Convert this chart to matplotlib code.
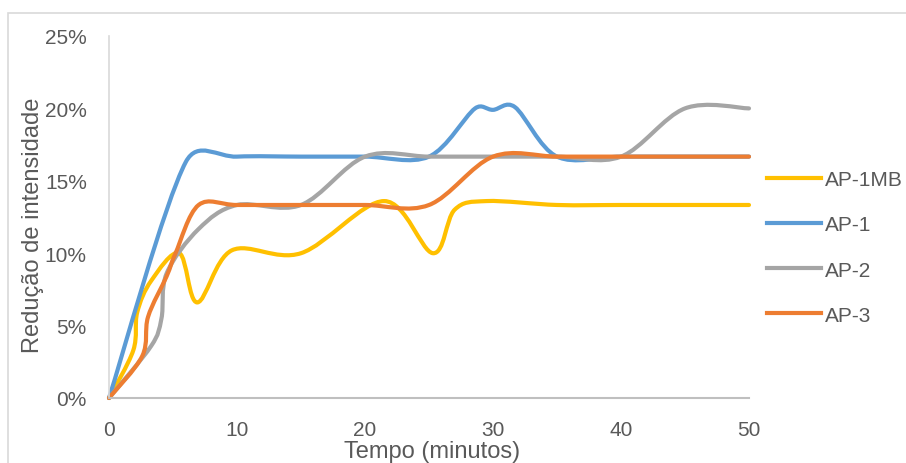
import numpy as np
import matplotlib.pyplot as plt
from matplotlib.path import Path
from matplotlib.patches import PathPatch, Rectangle
from matplotlib.lines import Line2D
from matplotlib.ticker import FuncFormatter

plt.rcParams['font.family'] = ['Liberation Sans', 'DejaVu Sans']

# tempo (minutos) e reducao de intensidade (%) de cada amostra
t_ap1mb = [0, 1.9, 2.2, 3.3, 5.5, 6.9, 9.6, 15, 21.5, 25.3, 27, 29.5, 35, 40, 45, 50]
r_ap1mb = [0, 3.3, 5.9, 8.1, 10.0, 6.6, 10.2, 10.0, 13.6, 10.0, 13.0, 13.6, 13.33, 13.33, 13.33, 13.33]

t_ap1 = [0, 6, 10, 15, 20, 25, 28.6, 30, 31.7, 35, 40, 45, 50]
r_ap1 = [0, 16.3, 16.67, 16.67, 16.67, 16.67, 20.0, 19.9, 20.1, 16.67, 16.67, 16.67, 16.67]

t_ap2 = [0, 3.3, 4.1, 4.5, 7, 10, 15, 20, 25, 30, 35, 40, 45, 50]
r_ap2 = [0, 3.6, 5.5, 8.6, 11.67, 13.33, 13.33, 16.67, 16.67, 16.67, 16.67, 16.67, 20, 20]

t_ap3 = [0, 2.6, 3.05, 4.5, 5.2, 7, 10, 15, 20, 25, 30, 35, 40, 45, 50]
r_ap3 = [0, 2.9, 5.6, 8.4, 10.0, 13.33, 13.33, 13.33, 13.33, 13.33, 16.67, 16.67, 16.67, 16.67, 16.67]

nomes = ['AP-1MB', 'AP-1', 'AP-2', 'AP-3']
cores = ['#FFC000', '#5B9BD5', '#A5A5A5', '#ED7D31']
series = [(t_ap1mb, r_ap1mb), (t_ap1, r_ap1), (t_ap2, r_ap2), (t_ap3, r_ap3)]

cinza = '#595959'


def linha_suave(ax, xs, ys):
    # curva bezier pelos pontos, como a linha suavizada do Excel
    pts = np.column_stack([xs, ys]).astype(float)
    tela = ax.transData.transform(pts)
    n = len(pts)
    verts = [pts[0]]
    codes = [Path.MOVETO]
    for i in range(n - 1):
        i0, i3 = max(i - 1, 0), min(i + 2, n - 1)
        p0, p1, p2, p3 = pts[i0], pts[i], pts[i + 1], pts[i3]
        d12 = np.hypot(*(tela[i + 1] - tela[i]))
        d02 = np.hypot(*(tela[i + 1] - tela[i0]))
        d13 = np.hypot(*(tela[i3] - tela[i]))
        f = 1 / 6 if d02 / 6 < d12 / 2 else d12 / (2 * d02)
        g = 1 / 6 if d13 / 6 < d12 / 2 else d12 / (2 * d13)
        verts += [p1 + f * (p2 - p0), p2 - g * (p3 - p1), p2]
        codes += [Path.CURVE4] * 3
    return Path(verts, codes)


fig = plt.figure(figsize=(9.06, 4.64), dpi=100)
fig.patches.append(Rectangle((8 / 906, -0.1), 1.2, 1.1 - 14 / 464,
                             transform=fig.transFigure, fill=False,
                             edgecolor='#D9D9D9', lw=1.2, clip_on=False))

ax = fig.add_axes([109 / 906, 1 - 399 / 464, 640 / 906, 362 / 464])
ax.set_xlim(0, 50)
ax.set_ylim(0, 25)

for (t, r), cor in zip(series, cores):
    ax.add_patch(PathPatch(linha_suave(ax, t, r), facecolor='none',
                           edgecolor=cor, lw=3, capstyle='round',
                           joinstyle='round', clip_on=False))

ax.set_xticks(range(0, 51, 10))
ax.set_yticks(range(0, 26, 5))
ax.yaxis.set_major_formatter(FuncFormatter(lambda v, p: f'{v:.0f}%'))
ax.tick_params(length=0, labelsize=15, colors=cinza)
ax.tick_params(axis='y', pad=16)
ax.tick_params(axis='x', pad=16)

for s in ['top', 'right']:
    ax.spines[s].set_visible(False)
ax.spines['left'].set_color('#D9D9D9')
ax.spines['left'].set_linewidth(1.2)
ax.spines['bottom'].set_color('#BFBFBF')
ax.spines['bottom'].set_linewidth(1.5)

fig.text(33 / 906, 1 - 225 / 464, 'Redução de intensidade', rotation=90,
         ha='center', va='center', fontsize=17, color=cinza)
fig.text(432 / 906, 1 - 452 / 464, 'Tempo (minutos)', ha='center',
         va='center', fontsize=17, color=cinza)

handles = [Line2D([], [], color=c, lw=3) for c in cores]
fig.legend(handles, nomes, loc='center left',
           bbox_to_anchor=(767 / 906, 1 - 248.5 / 464), frameon=False,
           fontsize=15, labelcolor=cinza, handlelength=2.6,
           handletextpad=0.2, labelspacing=1.25, borderpad=0,
           borderaxespad=0)

fig.savefig('out.png', dpi=100)
